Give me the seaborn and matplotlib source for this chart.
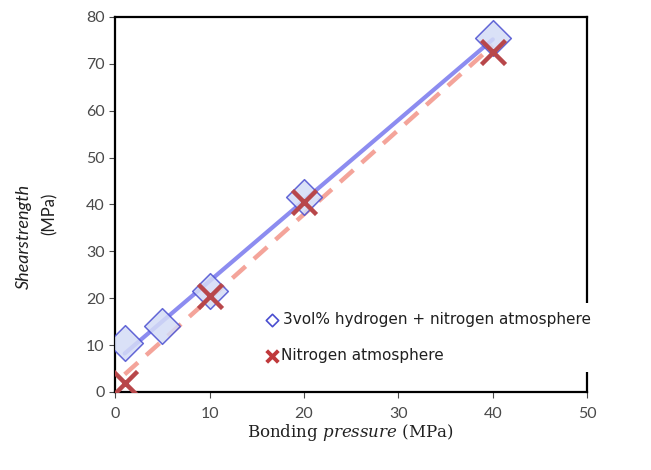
import matplotlib
matplotlib.use("Agg")
import matplotlib.pyplot as plt
from matplotlib.patches import Rectangle
import seaborn as sns
import pandas as pd

# values
pressure_h2 = [1, 5, 10, 20, 40]
strength_h2 = [10.5, 14.0, 21.5, 41.5, 75.5]
pressure_n2 = [1, 10, 20, 40]
strength_n2 = [2.0, 20.5, 40.5, 72.5]
x_ticks = [0, 10, 20, 30, 40, 50]
y_ticks = [0, 10, 20, 30, 40, 50, 60, 70, 80]
label_h2 = "3vol% hydrogen + nitrogen atmosphere"
label_n2 = "Nitrogen atmosphere"

df_h2 = pd.DataFrame({"p": pressure_h2, "s": strength_h2})
df_n2 = pd.DataFrame({"p": pressure_n2, "s": strength_n2})

sns.set_style("white")
plt.rcParams["font.family"] = ["Lato", "DejaVu Sans"]
plt.rcParams["mathtext.fontset"] = "custom"
plt.rcParams["mathtext.rm"] = "DejaVu Serif"
plt.rcParams["mathtext.it"] = "DejaVu Serif:italic"

fig = plt.figure(figsize=(6.51, 4.70), dpi=100)
ax = fig.add_axes([0.177, 0.166, 0.725, 0.798])

# trend lines
sns.regplot(data=df_n2, x="p", y="s", ax=ax, scatter=False, ci=None, truncate=True,
            line_kws=dict(color="#f4a49a", lw=3.2, ls=(0, (4, 2.5)), zorder=2))
sns.regplot(data=df_h2, x="p", y="s", ax=ax, scatter=False, ci=None, truncate=True,
            line_kws=dict(color="#8c8cf0", lw=3, zorder=3))

# markers
sns.scatterplot(data=df_h2, x="p", y="s", ax=ax, marker="D", s=330,
                facecolor="#d4dcf6", edgecolor="#4a4ed0", linewidth=1.1,
                alpha=0.85, zorder=4, legend=False)
sns.scatterplot(data=df_n2, x="p", y="s", ax=ax, marker="x", s=300,
                color="#b8474a", linewidth=3.2, zorder=5, legend=False)

ax.set_xlim(0, 50)
ax.set_ylim(0, 80)
ax.set_xticks(x_ticks)
ax.set_yticks(y_ticks)
ax.tick_params(axis="both", labelsize=11.5, colors="#4a4a4a", length=4,
               direction="out", left=True, bottom=True)
ax.tick_params(axis="x", pad=7)
for sp in ax.spines.values():
    sp.set_color("black")
    sp.set_linewidth(1.6)
ax.set_xlabel("")
ax.set_ylabel("")

# legend: white box (it hides part of the right frame, as in the original)
ax.add_patch(Rectangle((0.402, 0.209), 0.528, 0.147, transform=fig.transFigure,
                       facecolor="white", edgecolor="none", clip_on=False, zorder=3))
leg_font = ["DejaVu Sans"]
ax.scatter([0.333], [0.192], transform=ax.transAxes, marker="D", s=40,
           facecolor="white", edgecolor="#4a4ed0", linewidth=1.2, zorder=6)
ax.text(0.355, 0.192, label_h2, transform=ax.transAxes, fontsize=11,
        va="center", ha="left", color="#202020", family=leg_font, zorder=7)
ax.scatter([0.332], [0.096], transform=ax.transAxes, marker="x", s=70,
           color="#c0393b", linewidth=2.8, zorder=6)
ax.text(0.352, 0.096, label_n2, transform=ax.transAxes, fontsize=11,
        va="center", ha="left", color="#202020", family=leg_font, zorder=7)

# axis titles
fig.text(0.538, 0.08, r"$\mathrm{Bonding}\ \mathit{pressure}\ (\mathrm{MPa})$",
         ha="center", va="center", fontsize=12, color="#202020")
fig.text(0.036, 0.496, "Shearstrength", rotation=90, ha="center", va="center",
         fontsize=13, fontstyle="italic", color="#202020")
fig.text(0.076, 0.545, "(MPa)", rotation=90, ha="center", va="center",
         fontsize=12, color="#202020")

fig.savefig("out.png", dpi=100, facecolor="white")
